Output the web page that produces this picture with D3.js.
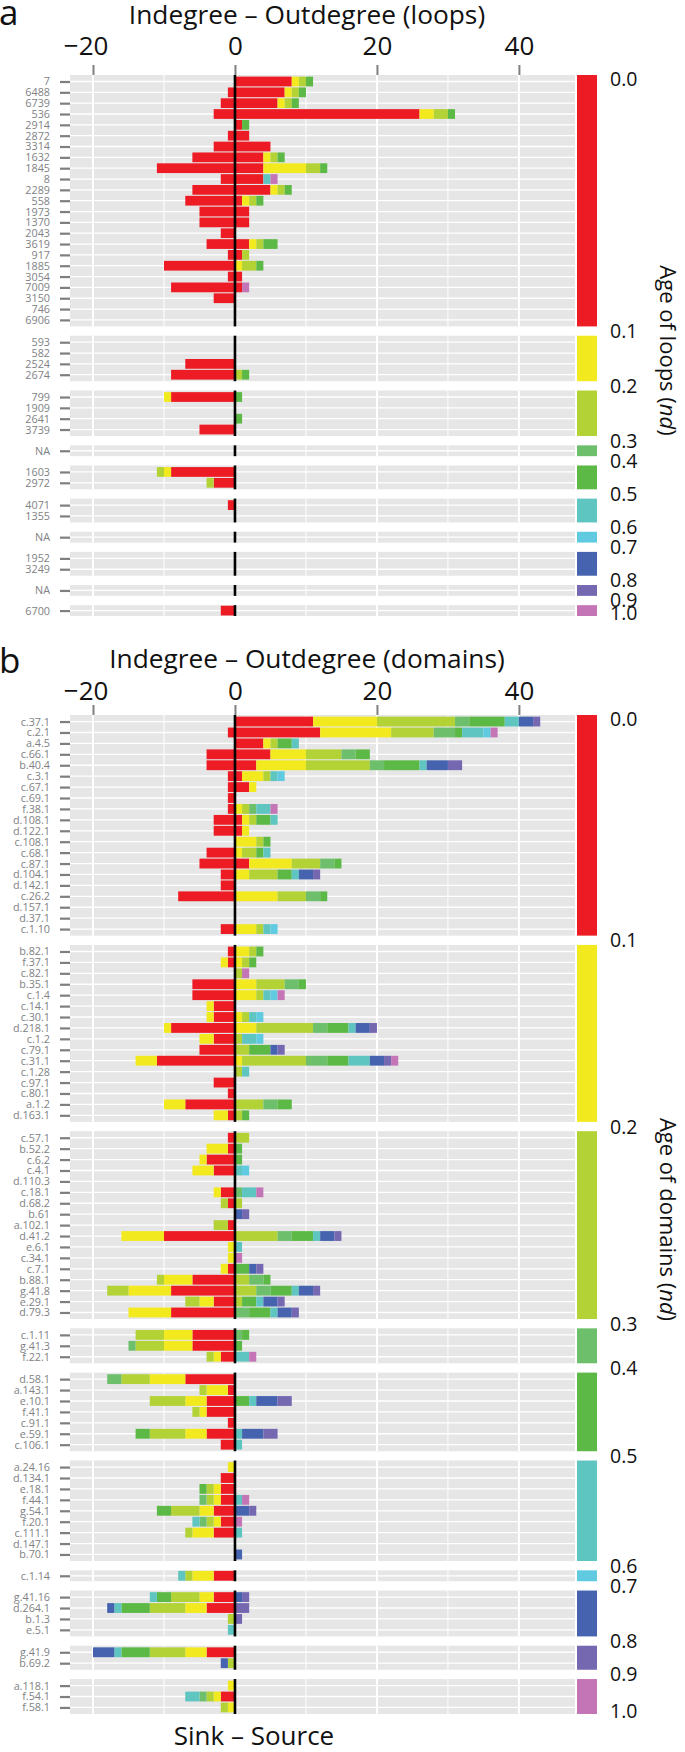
<!DOCTYPE html>
<html><head><meta charset="utf-8">
<script src="https://cdn.jsdelivr.net/npm/d3@7"></script>
<style>
body{margin:0;background:#fff}
svg{display:block}
text{font-family:"Open Sans","Noto Sans",sans-serif}
</style>
</head><body>
<svg id="chart" width="685" height="1752"></svg>
<script>
// ---------- shared ----------
const ageColors = ["#ED1C24","#F2EA1F","#B3D235","#6DBF6B","#5DB946","#5FC5C0","#5FCAE0","#4563AE","#7568B1","#C475B6"];
const ageTicks = ["0.0","0.1","0.2","0.3","0.4","0.5","0.6","0.7","0.8","0.9","1.0"];
const xMajor = [-20, 0, 20, 40];
const xMinor = [-10, 10, 30];

// ---------- panel a : loops ----------
const loopLabels = ["7","6488","6739","536","2914","2872","3314","1632","1845","8","2289","558","1973","1370","2043","3619","917","1885","3054","7009","3150","746","6906",
  "593","582","2524","2674",
  "799","1909","2641","3739",
  "NA",
  "1603","2972",
  "4071","1355",
  "NA",
  "1952","3249",
  "NA",
  "6700"];
const loopGroups = [23,4,4,1,2,2,1,2,1,1];
// indegree counts by age bin (positive side)
const loopIn = [[8,1,1,0,1],[7,1,1,0,1],[6,1,1,0,1],[26,2,2,0,1],[1,0,0,0,1],[2],[5],[4,1,1,0,1],[4,6,2,0,1],[4,0,0,0,0,1,0,0,0,1],[5,1,1,0,1],[1,1,1,0,1],[2],[2],[],[2,1,1,0,2],[1,0,1],[0,1,2,0,1],[1],[1,0,0,0,0,0,0,0,0,1],[],[],[],
  [],[],[],[0,0,1,0,1],
  [0,0,0,0,1],[],[0,0,0,0,1],[],
  [],
  [],[],
  [],[],
  [],
  [],[],
  [],
  []];
// outdegree counts by age bin (negative side)
const loopOut = [[],[1],[2],[3],[],[1],[3],[6],[11],[2],[6],[7],[5],[5],[2],[4],[1],[10],[1],[9],[3],[],[],
  [],[],[7],[9],
  [9,1],[],[],[5],
  [],
  [9,1,1],[3,0,1],
  [1],[],
  [],
  [],[],
  [],
  [2]];

// ---------- panel b : domains ----------
const domLabels = ["c.37.1","c.2.1","a.4.5","c.66.1","b.40.4","c.3.1","c.67.1","c.69.1","f.38.1","d.108.1","d.122.1","c.108.1","c.68.1","c.87.1","d.104.1","d.142.1","c.26.2","d.157.1","d.37.1","c.1.10",
  "b.82.1","f.37.1","c.82.1","b.35.1","c.1.4","c.14.1","c.30.1","d.218.1","c.1.2","c.79.1","c.31.1","c.1.28","c.97.1","c.80.1","a.1.2","d.163.1",
  "c.57.1","b.52.2","c.6.2","c.4.1","d.110.3","c.18.1","d.68.2","b.61","a.102.1","d.41.2","e.6.1","c.34.1","c.7.1","b.88.1","g.41.8","e.29.1","d.79.3",
  "c.1.11","g.41.3","f.22.1",
  "d.58.1","a.143.1","e.10.1","f.41.1","c.91.1","e.59.1","c.106.1",
  "a.24.16","d.134.1","e.18.1","f.44.1","g.54.1","f.20.1","c.111.1","d.147.1","b.70.1",
  "c.1.14",
  "g.41.16","d.264.1","b.1.3","e.5.1",
  "g.41.9","b.69.2",
  "a.118.1","f.54.1","f.58.1"];
const domGroups = [20,16,17,3,7,9,1,4,2,3];
const domIn = [[11,9,11,2,5,2,0,2,1],[12,10,6,3,1,3,1,0,0,1],[4,1,1,0,2,1],[5,5,5,2,2],[3,7,9,2,5,1,0,3,2],[1,3,1,0,0,1,1],[2,1],[],[0,1,1,1,0,2,0,0,0,1],[1,1,1,0,2,1],[1,1],[0,3,1,0,1],[0,1,2,0,1,1],[2,6,4,2,1],[0,2,4,0,2,1,0,2,1],[],[0,6,4,2,1],[],[],[0,3,1,0,0,1,1],
  [0,2,1,0,1],[0,1,1,0,1],[0,0,1,0,0,0,0,0,0,1],[0,3,4,2,1],[0,3,1,0,0,1,1,0,0,1],[],[0,1,1,0,0,1,1],[0,3,8,2,3,1,0,2,1],[0,0,1,0,0,2,1],[0,0,2,0,3,0,0,1,1],[0,1,9,3,3,3,0,2,1,1],[0,0,1,0,0,1],[],[],[0,0,4,2,2],[0,0,1,0,1],
  [0,0,2],[0,0,0,0,1],[0,0,0,0,1],[0,0,0,0,0,1,1],[],[0,0,0,1,0,2,0,0,0,1],[0,0,1],[0,0,0,0,0,0,0,1,1],[],[0,0,6,2,3,1,0,2,1],[0,0,0,0,0,1],[0,0,0,0,0,0,0,0,0,1],[0,0,0,0,2,0,0,1,1],[0,0,2,2,1],[0,0,3,2,3,1,0,2,1],[0,0,1,0,2,1,0,2,1],[0,0,0,2,3,1,0,2,1],
  [0,0,0,1,1],[0,0,0,0,1],[0,0,0,0,0,2,0,0,0,1],
  [],[],[0,0,0,0,2,1,0,3,2],[],[],[0,0,0,0,0,1,0,3,2],[0,0,0,0,0,1],
  [],[],[],[0,0,0,0,0,1,0,0,0,1],[0,0,0,0,0,0,0,2,1],[0,0,0,0,0,0,0,0,0,1],[0,0,0,0,0,1],[],[0,0,0,0,0,0,0,1],
  [],
  [0,0,0,0,0,0,0,1,1],[0,0,0,0,0,0,0,0,2],[0,0,0,0,0,0,0,0,1],[],
  [],[],
  [],[],[]];
const domOut = [[],[1],[],[4],[4],[1],[1],[1],[1],[3],[3],[],[4],[5],[2],[2],[8],[],[],[2],
  [1],[1,1],[],[6],[6],[3,1],[3,1],[9,1],[3,2],[5],[11,3],[],[3],[1],[7,3],[1,2],
  [1],[1,3],[4,1],[3,3],[],[2,1],[1,0,1],[],[1,0,2],[10,6],[0,1],[0,1],[1,1],[6,4,1],[9,6,3],[3,2,2],[9,6],
  [6,4,4],[6,4,4,1],[2,1,1],
  [7,5,4,2],[1,3,1],[4,3,5],[4,1,1],[1],[4,3,5,0,2],[2],
  [0,1],[2],[2,1,1,0,1],[2,1,1,1],[3,2,4,0,2],[2,1,1,1,0,1],[3,3,1],[],[],
  [3,3,1,0,0,1],
  [3,2,4,0,2,1],[4,3,5,0,4,1,0,1],[0,0,1],[0,0,0,0,0,1],
  [4,3,5,0,4,1,0,3],[0,0,1,0,0,0,0,1],
  [0,1],[2,1,1,1,0,2],[0,1,1]];

// ---------- drawing ----------
const svg = d3.select("#chart");
const x = d3.scaleLinear().domain([-23.24, 47.9]).range([70, 575]);
const GAP = 9.3;
const BG = "#E6E6E7";
const labelGray = "#808285";

function segments(vals, sign) {
  const out = []; let c = 0;
  (vals || []).forEach((v, k) => { if (v > 0) { out.push({k, a: sign * c, b: sign * (c + v)}); } c += v; });
  return out;
}

function drawPanel(cfg) {
  const g = svg.append("g");
  const units = cfg.groups.map(n => n === 1 ? 1 : n + 0.2);
  const step = (cfg.bottom - cfg.top - GAP * (cfg.groups.length - 1)) / d3.sum(units);
  let yy = cfg.top, start = 0;
  const facets = cfg.groups.map((n, i) => {
    const h = units[i] * step;
    const f = {i, n, top: yy, bottom: yy + h, start};
    f.y = d3.scalePoint().domain(d3.range(n)).range([f.top, f.bottom]).padding(n === 1 ? 0.5 : 0.6);
    yy += h + GAP; start += n;
    return f;
  });
  const barH = step * 0.9;

  facets.forEach(f => {
    const fg = g.append("g");
    fg.append("rect").attr("x", x.range()[0]).attr("y", f.top)
      .attr("width", x.range()[1] - x.range()[0]).attr("height", f.bottom - f.top).attr("fill", BG);
    fg.selectAll("line.minor").data(xMinor).join("line")
      .attr("x1", d => x(d)).attr("x2", d => x(d)).attr("y1", f.top).attr("y2", f.bottom)
      .attr("stroke", "#fff").attr("stroke-width", 1);
    fg.selectAll("line.major").data(xMajor).join("line")
      .attr("x1", d => x(d)).attr("x2", d => x(d)).attr("y1", f.top).attr("y2", f.bottom)
      .attr("stroke", "#fff").attr("stroke-width", 2);
    const rows = d3.range(f.n);
    fg.selectAll("line.h").data(rows).join("line")
      .attr("x1", x.range()[0]).attr("x2", x.range()[1])
      .attr("y1", d => f.y(d)).attr("y2", d => f.y(d))
      .attr("stroke", "#fff").attr("stroke-width", 1.3);
    rows.forEach(r => {
      const idx = f.start + r;
      const segs = segments(cfg.inV[idx], 1).concat(segments(cfg.outV[idx], -1));
      fg.selectAll(null).data(segs).join("rect")
        .attr("x", d => x(Math.min(d.a, d.b))).attr("width", d => Math.abs(x(d.b) - x(d.a)))
        .attr("y", f.y(r) - barH / 2).attr("height", barH)
        .attr("fill", d => ageColors[d.k]);
    });
    fg.append("line").attr("x1", x(0)).attr("x2", x(0)).attr("y1", f.top).attr("y2", f.bottom)
      .attr("stroke", "#000").attr("stroke-width", 2.6);
    // left axis
    const ax = fg.append("g").attr("transform", `translate(${x.range()[0]},0)`)
      .call(d3.axisLeft(f.y).tickSize(10).tickPadding(10).tickFormat(d => cfg.labels[f.start + d]));
    ax.select(".domain").remove();
    ax.selectAll(".tick line").attr("stroke", "#7F7F7F").attr("stroke-width", 2.2);
    ax.selectAll(".tick text").attr("fill", labelGray).style("font-size", "10.8px")
      .style("font-family", '"Open Sans",sans-serif');
    // legend strip
    g.append("rect").attr("x", 577).attr("width", 20).attr("y", f.top).attr("height", f.bottom - f.top)
      .attr("fill", ageColors[f.i]);
  });

  // top axis
  const tax = g.append("g").attr("transform", `translate(0,${cfg.top})`)
    .call(d3.axisTop(x).tickValues(xMajor).tickSize(10).tickPadding(cfg.top - cfg.tickBase - 10).tickFormat(d3.format("d")));
  tax.select(".domain").remove();
  tax.selectAll(".tick line").attr("stroke", "#7F7F7F").attr("stroke-width", 2);
  tax.selectAll(".tick text").attr("fill", "#111").attr("dy", 0)
    .style("font-size", "26px").style("font-family", '"Open Sans",sans-serif');
  tax.selectAll(".tick text").each(function(d) {
    if (d < 0) {
      const full = this.getComputedTextLength();
      const t = d3.select(this); const s = t.text();
      t.text(s.slice(1)); const w = this.getComputedTextLength(); t.text(s);
      t.attr("dx", -(full - w) / 2);
    }
  });

  // title
  g.append("text").attr("x", 307).attr("y", cfg.titleBase).attr("text-anchor", "middle")
    .style("font-size", "26.3px").attr("fill", "#111").text(cfg.title);
  // panel letter
  g.append("text").attr("x", -1).attr("y", cfg.letterBase).style("font-size", "35px").attr("fill", "#111").text(cfg.letter);

  // legend labels at facet boundaries
  const pos = ageTicks.map((t, k) => {
    if (k === 0) return facets[0].top + 4;
    if (k === facets.length) return facets[facets.length - 1].bottom - 3;
    return (facets[k - 1].bottom + facets[k].top) / 2;
  });
  for (let it = 0; it < 20; it++) {
    for (let i = 1; i < pos.length; i++) {
      const d = pos[i] - pos[i - 1];
      if (d < 13) { const m = (13 - d) / 2; pos[i - 1] -= m; pos[i] += m; }
    }
  }
  g.selectAll("text.leg").data(ageTicks).join("text")
    .attr("x", 610).attr("y", (d, i) => pos[i]).attr("dy", "0.36em")
    .style("font-size", "19.5px").attr("fill", "#111").text(d => d);

  // right title
  const rt = g.append("text").attr("transform", `translate(668,${(cfg.top + cfg.bottom) / 2 + 5}) rotate(90)`)
    .attr("text-anchor", "middle").attr("dy", "0.35em").style("font-size", "22px").attr("fill", "#111");
  rt.append("tspan").text(cfg.rightTitle + " (");
  rt.append("tspan").style("font-style", "italic").text("nd");
  rt.append("tspan").text(")");
}

drawPanel({labels: loopLabels, groups: loopGroups, inV: loopIn, outV: loopOut,
  top: 75, bottom: 616, tickBase: 55, titleBase: 24, letterBase: 25, letter: "a",
  title: "Indegree – Outdegree (loops)", rightTitle: "Age of loops"});
drawPanel({labels: domLabels, groups: domGroups, inV: domIn, outV: domOut,
  top: 715, bottom: 1714, tickBase: 700, titleBase: 668, letterBase: 673, letter: "b",
  title: "Indegree – Outdegree (domains)", rightTitle: "Age of domains"});

svg.append("text").attr("x", 254).attr("y", 1745).attr("text-anchor", "middle")
  .style("font-size", "26px").attr("fill", "#111").text("Sink – Source");
</script>
</body></html>
